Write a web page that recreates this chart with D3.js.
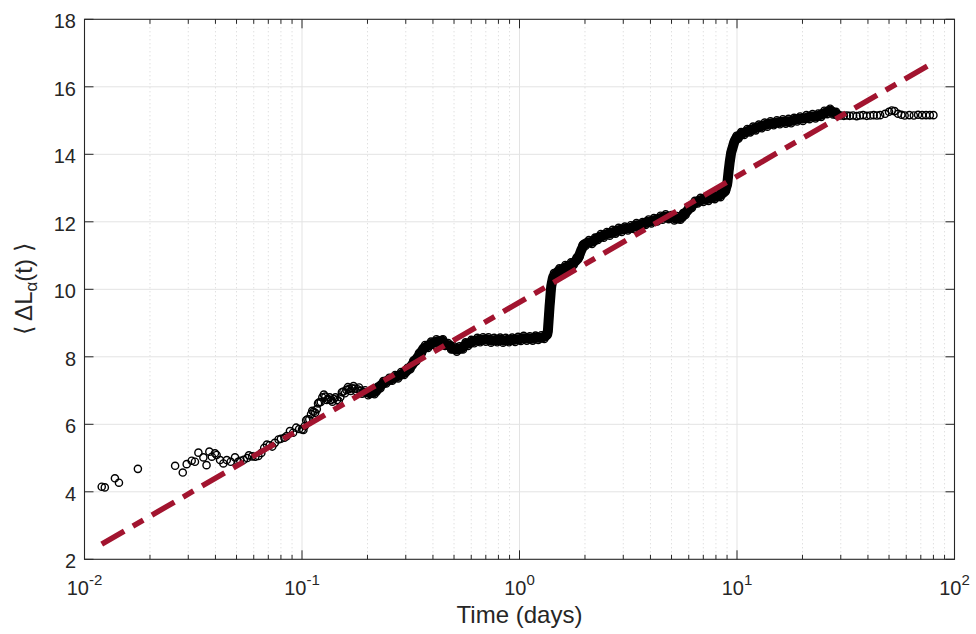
<!DOCTYPE html>
<html>
<head>
<meta charset="utf-8">
<script src="https://cdn.jsdelivr.net/npm/d3@7"></script>
<style>
  body { margin: 0; background: #fff; }
  text { font-family: "Liberation Sans", Arial, Helvetica, sans-serif; fill: #262626; }
</style>
</head>
<body>
<svg id="chart" width="976" height="634"></svg>
<script>
{
  // axis data
  const decades = [0.01, 0.1, 1, 10, 100];
  const decadeExponents = ['-2', '-1', '0', '1', '2'];
  const minorSteps = [2, 3, 4, 5, 6, 7, 8, 9];
  const valueTicks = [2, 4, 6, 8, 10, 12, 14, 16, 18];

  // fitted trend (dash-dot line), two end points
  const fitTime = [0.0120, 78];
  const fitValue = [2.45, 16.68];

  // observed <dL_alpha(t)> : [time in days, value]
  const observed = [
    [0.0120, 4.15], [0.0124, 4.13], [0.0138, 4.40], [0.0144, 4.27], [0.0176, 4.68],
    [0.0261, 4.77], [0.0283, 4.57], [0.0295, 4.82], [0.0311, 4.92], [0.0322, 4.89],
    [0.0334, 5.16], [0.0352, 5.02], [0.0364, 4.79], [0.0375, 5.19], [0.0385, 5.04],
    [0.0398, 5.14], [0.0405, 5.09], [0.0420, 4.94], [0.0435, 4.84], [0.0451, 4.94],
    [0.0470, 4.89], [0.0492, 5.02], [0.0509, 4.89],
    [0.052, 4.92], [0.054, 4.95], [0.056, 5.00], [0.057, 5.08], [0.059, 5.05],
    [0.061, 5.04], [0.063, 5.06], [0.065, 5.15], [0.067, 5.30], [0.069, 5.40],
    [0.071, 5.38], [0.073, 5.34], [0.075, 5.45], [0.078, 5.55], [0.080, 5.57],
    [0.083, 5.60], [0.085, 5.65], [0.088, 5.80], [0.091, 5.75], [0.094, 5.90],
    [0.097, 5.86],
    [0.100, 5.85], [0.103, 5.95], [0.106, 6.15], [0.110, 6.30], [0.113, 6.37],
    [0.117, 6.45], [0.120, 6.65], [0.124, 6.80], [0.128, 6.82], [0.132, 6.75],
    [0.136, 6.72], [0.140, 6.75], [0.145, 6.72], [0.150, 6.80], [0.155, 6.97],
    [0.160, 7.02], [0.165, 7.05], [0.170, 7.07], [0.175, 7.06], [0.180, 7.04],
    [0.186, 7.00], [0.192, 6.96], [0.198, 6.93], [0.205, 6.92], [0.212, 6.94],
    [0.219, 6.98], [0.226, 7.10], [0.233, 7.18], [0.240, 7.25], [0.248, 7.30],
    [0.256, 7.33], [0.264, 7.38], [0.272, 7.41], [0.281, 7.45], [0.290, 7.50],
    [0.300, 7.55], [0.310, 7.65], [0.320, 7.75], [0.330, 7.88], [0.340, 7.98],
    [0.350, 8.10], [0.362, 8.25], [0.374, 8.30], [0.386, 8.36], [0.398, 8.40],
    [0.41, 8.44], [0.42, 8.46], [0.44, 8.48], [0.45, 8.42], [0.46, 8.36],
    [0.48, 8.33], [0.49, 8.25], [0.51, 8.22], [0.52, 8.22], [0.54, 8.25],
    [0.56, 8.33], [0.57, 8.38], [0.59, 8.40], [0.61, 8.46], [0.63, 8.48],
    [0.65, 8.50], [0.67, 8.50], [0.69, 8.52], [0.71, 8.52], [0.73, 8.50],
    [0.75, 8.48], [0.78, 8.50], [0.80, 8.50], [0.83, 8.50], [0.85, 8.48],
    [0.88, 8.50], [0.91, 8.50], [0.94, 8.50], [0.97, 8.52],
    [1.00, 8.52], [1.03, 8.55], [1.06, 8.55], [1.10, 8.55], [1.13, 8.54],
    [1.17, 8.56], [1.20, 8.57], [1.24, 8.56], [1.28, 8.58], [1.32, 8.62],
    [1.34, 8.66], [1.350, 8.75], [1.355, 8.90], [1.360, 9.05], [1.365, 9.20],
    [1.370, 9.35], [1.375, 9.50], [1.380, 9.62], [1.385, 9.75], [1.390, 9.88],
    [1.395, 10.00], [1.400, 10.10], [1.41, 10.20], [1.42, 10.30], [1.43, 10.37],
    [1.45, 10.42], [1.50, 10.52], [1.55, 10.58], [1.60, 10.62], [1.65, 10.67],
    [1.70, 10.70], [1.75, 10.75], [1.80, 10.82], [1.86, 10.92], [1.92, 11.15],
    [1.98, 11.33], [2.05, 11.38], [2.12, 11.40], [2.19, 11.42], [2.26, 11.50],
    [2.33, 11.55], [2.40, 11.58], [2.48, 11.62], [2.56, 11.65], [2.64, 11.67],
    [2.72, 11.70], [2.81, 11.74], [2.90, 11.76], [3.00, 11.78], [3.10, 11.80],
    [3.20, 11.81], [3.30, 11.84], [3.40, 11.88], [3.50, 11.90], [3.62, 11.90],
    [3.74, 11.95], [3.86, 12.00], [3.98, 12.00], [4.1, 12.03], [4.2, 12.05],
    [4.4, 12.10], [4.5, 12.12], [4.6, 12.14], [4.8, 12.15], [4.9, 12.14],
    [5.1, 12.12], [5.2, 12.10], [5.4, 12.10], [5.6, 12.15], [5.7, 12.22],
    [5.9, 12.32], [6.1, 12.43], [6.3, 12.52], [6.5, 12.58], [6.7, 12.63],
    [6.9, 12.65], [7.1, 12.66], [7.3, 12.68], [7.5, 12.70], [7.8, 12.73],
    [8.0, 12.74], [8.3, 12.78], [8.5, 12.82], [8.8, 12.90], [9.0, 13.10],
    [9.05, 13.20], [9.1, 13.35], [9.15, 13.50], [9.2, 13.62], [9.25, 13.75],
    [9.3, 13.85], [9.35, 13.95], [9.4, 14.05], [9.5, 14.15], [9.6, 14.25],
    [9.7, 14.35], [9.8, 14.42], [9.9, 14.47],
    [10.0, 14.50], [10.3, 14.56], [10.6, 14.62], [11.0, 14.66], [11.3, 14.70],
    [11.7, 14.73], [12.0, 14.76], [12.4, 14.80], [12.8, 14.82], [13.2, 14.85],
    [13.6, 14.88], [14.0, 14.90], [14.5, 14.92], [15.0, 14.93], [15.5, 14.95],
    [16.0, 14.96], [16.5, 14.97], [17.0, 14.98], [17.5, 14.98], [18.0, 15.00],
    [18.6, 15.03], [19.2, 15.05], [19.8, 15.06], [20.5, 15.07], [21.2, 15.10],
    [21.9, 15.12], [22.6, 15.12], [23.3, 15.13], [24.0, 15.16], [24.8, 15.20],
    [25.6, 15.24], [26.4, 15.28], [27.2, 15.28], [28.1, 15.22], [29.0, 15.17],
    [30.0, 15.15], [31.0, 15.14], [32.0, 15.15], [33.0, 15.14], [34.2, 15.15],
    [35.5, 15.13], [36.7, 15.15], [38.0, 15.16], [39.5, 15.14], [41, 15.15],
    [42.5, 15.16], [44, 15.15], [45.5, 15.16], [48, 15.20], [50, 15.26],
    [51.5, 15.30], [53, 15.28], [55, 15.20], [57, 15.17], [59, 15.15],
    [62, 15.16], [65, 15.15], [68, 15.17], [71, 15.16], [74, 15.16],
    [77, 15.16], [80, 15.16]
  ];

  // extra samples in the dense stretch (band is several markers thick)
  const observedDense = [
    [0.1015, 5.83], [0.1045, 6.12], [0.108, 6.15], [0.1115, 6.40], [0.115, 6.34],
    [0.1185, 6.62], [0.122, 6.66], [0.126, 6.88], [0.130, 6.72], [0.134, 6.80],
    [0.138, 6.67], [0.1425, 6.80], [0.1475, 6.69], [0.1525, 6.95], [0.1575, 6.92],
    [0.1625, 7.10], [0.1675, 6.99], [0.1725, 7.13], [0.1775, 6.98], [0.183, 7.09],
    [0.189, 6.91], [0.195, 7.01], [0.2015, 6.86], [0.2085, 7.00], [0.2155, 6.89],
    [0.2225, 7.11], [0.2295, 7.07], [0.2365, 7.28], [0.244, 7.21], [0.252, 7.38],
    [0.260, 7.29], [0.268, 7.46], [0.2765, 7.36], [0.2855, 7.55], [0.295, 7.46],
    [0.305, 7.67], [0.315, 7.63], [0.325, 7.89], [0.335, 7.86], [0.345, 8.11],
    [0.356, 8.11], [0.368, 8.35], [0.380, 8.26], [0.392, 8.45], [0.404, 8.35],
    [0.415, 8.52], [0.43, 8.40], [0.445, 8.52], [0.455, 8.32], [0.47, 8.41],
    [0.485, 8.22], [0.50, 8.31], [0.515, 8.15], [0.53, 8.31], [0.55, 8.22],
    [0.565, 8.43], [0.58, 8.32], [0.60, 8.50], [0.62, 8.40], [0.64, 8.56],
    [0.66, 8.43], [0.68, 8.58], [0.70, 8.45], [0.72, 8.58], [0.74, 8.42],
    [0.765, 8.56], [0.79, 8.43], [0.815, 8.57], [0.84, 8.42], [0.865, 8.56],
    [0.895, 8.43], [0.925, 8.57], [0.955, 8.44], [0.985, 8.59], [1.015, 8.47],
    [1.045, 8.62], [1.08, 8.48], [1.115, 8.61], [1.15, 8.48], [1.185, 8.63],
    [1.22, 8.50], [1.26, 8.64], [1.30, 8.53], [1.33, 8.71],
    [1.3525, 8.80], [1.3575, 8.95], [1.3625, 9.10], [1.3675, 9.28], [1.3725, 9.42],
    [1.3775, 9.56], [1.3825, 9.68], [1.3875, 9.82], [1.3925, 9.94], [1.3975, 10.05],
    [1.405, 10.17], [1.415, 10.27], [1.425, 10.36], [1.44, 10.48], [1.475, 10.40],
    [1.525, 10.62], [1.575, 10.53], [1.625, 10.72], [1.675, 10.62], [1.725, 10.80],
    [1.775, 10.72], [1.83, 10.94], [1.89, 10.97], [1.95, 11.31], [2.015, 11.29],
    [2.085, 11.46], [2.155, 11.34], [2.225, 11.53], [2.295, 11.46], [2.365, 11.64],
    [2.44, 11.53], [2.52, 11.70], [2.60, 11.59], [2.68, 11.76], [2.765, 11.65],
    [2.855, 11.82], [2.95, 11.70], [3.05, 11.86], [3.15, 11.74], [3.25, 11.90],
    [3.35, 11.79], [3.45, 11.96], [3.56, 11.83], [3.68, 11.99], [3.80, 11.91],
    [3.92, 12.07], [4.04, 11.95], [4.15, 12.11], [4.3, 12.01], [4.45, 12.18],
    [4.55, 12.06], [4.7, 12.22], [4.85, 12.08], [5.0, 12.20], [5.15, 12.04],
    [5.3, 12.17], [5.5, 12.06], [5.65, 12.26], [5.8, 12.20], [6.0, 12.45],
    [6.2, 12.41], [6.4, 12.62], [6.6, 12.54], [6.8, 12.71], [7.0, 12.59],
    [7.2, 12.74], [7.4, 12.62], [7.65, 12.79], [7.9, 12.67], [8.15, 12.83],
    [8.4, 12.73], [8.65, 12.93], [8.9, 12.93],
    [9.03, 13.12], [9.08, 13.28], [9.13, 13.42], [9.18, 13.56], [9.23, 13.69],
    [9.28, 13.80], [9.33, 13.90], [9.38, 14.00], [9.45, 14.12], [9.55, 14.22],
    [9.65, 14.32], [9.75, 14.41], [9.85, 14.47], [9.95, 14.55],
    [10.15, 14.46], [10.45, 14.66], [10.8, 14.57], [11.15, 14.75], [11.5, 14.65],
    [11.85, 14.82], [12.2, 14.71], [12.6, 14.88], [13.0, 14.77], [13.4, 14.94],
    [13.8, 14.82], [14.25, 14.98], [14.75, 14.86], [15.25, 15.01], [15.75, 14.89],
    [16.25, 15.04], [16.75, 14.91], [17.25, 15.05], [17.75, 14.92], [18.3, 15.08],
    [18.9, 14.97], [19.5, 15.12], [20.1, 14.99], [20.85, 15.16], [21.55, 15.04],
    [22.25, 15.19], [22.95, 15.06], [23.65, 15.21], [24.4, 15.11], [25.2, 15.29],
    [26.0, 15.19], [26.8, 15.35], [27.65, 15.18], [28.55, 15.26]
  ];

  // where markers pile up into a solid band
  const solidRange = [0.2, 29];

  const AXIS = '#262626';
  const GRID = '#e3e3e3';
  const MINOR_GRID = '#d2d2d2';
  const FIT_RED = '#A2142F';

  const margin = {top: 19.3, right: 21.5, bottom: 74.7, left: 84.5};
  const width = 976 - margin.left - margin.right;
  const height = 634 - margin.top - margin.bottom;

  const svg = d3.select('#chart');
  const plot = svg.append('g')
    .attr('transform', `translate(${margin.left},${margin.top})`);

  const x = d3.scaleLog().domain([0.01, 100]).range([0, width]);
  const y = d3.scaleLinear().domain([2, 18]).range([height, 0]);

  const minorTicks = decades.slice(0, -1)
    .flatMap((d) => minorSteps.map((s) => d * s));

  // grid
  plot.append('g')
    .selectAll('line')
    .data(minorTicks)
    .join('line')
      .attr('x1', (d) => x(d)).attr('x2', (d) => x(d))
      .attr('y1', 0).attr('y2', height)
      .attr('stroke', MINOR_GRID)
      .attr('stroke-width', 1)
      .attr('stroke-dasharray', '1,3');

  plot.append('g')
    .selectAll('line')
    .data(decades.slice(1, -1))
    .join('line')
      .attr('x1', (d) => x(d)).attr('x2', (d) => x(d))
      .attr('y1', 0).attr('y2', height)
      .attr('stroke', GRID);

  plot.append('g')
    .selectAll('line')
    .data(valueTicks.slice(1, -1))
    .join('line')
      .attr('x1', 0).attr('x2', width)
      .attr('y1', (d) => y(d)).attr('y2', (d) => y(d))
      .attr('stroke', GRID);

  const pointLine = d3.line()
    .x((d) => x(d[0]))
    .y((d) => y(d[1]));

  // overlapping markers fill in where the sampling is dense
  plot.append('path')
    .datum(observed.filter((d) => d[0] >= solidRange[0] && d[0] <= solidRange[1]))
    .attr('d', pointLine)
    .attr('fill', 'none')
    .attr('stroke', '#000')
    .attr('stroke-width', 10)
    .attr('stroke-linejoin', 'round')
    .attr('stroke-linecap', 'round');

  // observed circles
  plot.append('g')
    .selectAll('circle')
    .data(observed.concat(observedDense))
    .join('circle')
      .attr('cx', (d) => x(d[0]))
      .attr('cy', (d) => y(d[1]))
      .attr('r', 3.6)
      .attr('fill', 'none')
      .attr('stroke', '#000')
      .attr('stroke-width', 1.4);

  // fitted dash-dot line
  plot.append('path')
    .datum(d3.zip(fitTime, fitValue))
    .attr('d', pointLine)
    .attr('fill', 'none')
    .attr('stroke', FIT_RED)
    .attr('stroke-width', 5.5)
    .attr('stroke-dasharray', '26,10,12,10');

  // box + ticks
  plot.append('rect')
    .attr('width', width)
    .attr('height', height)
    .attr('fill', 'none')
    .attr('stroke', AXIS)
    .attr('stroke-width', 1.1);

  const ticks = plot.append('g')
    .attr('stroke', AXIS)
    .attr('stroke-width', 1);

  [0, height].forEach((edge) => {
    const dir = edge === 0 ? 1 : -1;
    ticks.append('g').selectAll('line')
      .data(decades)
      .join('line')
        .attr('x1', (d) => x(d)).attr('x2', (d) => x(d))
        .attr('y1', edge).attr('y2', edge + dir * 9);
    ticks.append('g').selectAll('line')
      .data(minorTicks)
      .join('line')
        .attr('x1', (d) => x(d)).attr('x2', (d) => x(d))
        .attr('y1', edge).attr('y2', edge + dir * 4.5);
  });

  [0, width].forEach((edge) => {
    const dir = edge === 0 ? 1 : -1;
    ticks.append('g').selectAll('line')
      .data(valueTicks)
      .join('line')
        .attr('x1', edge).attr('x2', edge + dir * 9)
        .attr('y1', (d) => y(d)).attr('y2', (d) => y(d));
  });

  // tick labels
  plot.append('g')
    .selectAll('text')
    .data(valueTicks)
    .join('text')
      .attr('x', -8.5)
      .attr('y', (d) => y(d) + 8.8)
      .attr('text-anchor', 'end')
      .attr('font-size', 20)
      .text((d) => d);

  const xLabels = plot.append('g')
    .selectAll('text')
    .data(decades)
    .join('text')
      .attr('x', (d) => x(d))
      .attr('y', height + 36)
      .attr('text-anchor', 'middle')
      .attr('font-size', 20);

  xLabels.append('tspan').text('10');
  xLabels.append('tspan')
    .attr('dy', -10)
    .attr('font-size', 15)
    .text((d, i) => decadeExponents[i]);

  // axis titles
  plot.append('text')
    .attr('x', width / 2)
    .attr('y', height + 63.5)
    .attr('text-anchor', 'middle')
    .attr('font-size', 24)
    .text('Time (days)');

  const yTitle = plot.append('text')
    .attr('transform', `translate(${31.5 - margin.left},${height / 2}) rotate(-90)`)
    .attr('text-anchor', 'middle')
    .attr('font-size', 24);

  yTitle.append('tspan').text('\u27E8 \u0394L');
  yTitle.append('tspan').attr('dy', 5).attr('font-size', 17).text('\u03B1');
  yTitle.append('tspan').attr('dy', -5).text('(t) \u27E9');
}
</script>
</body>
</html>
